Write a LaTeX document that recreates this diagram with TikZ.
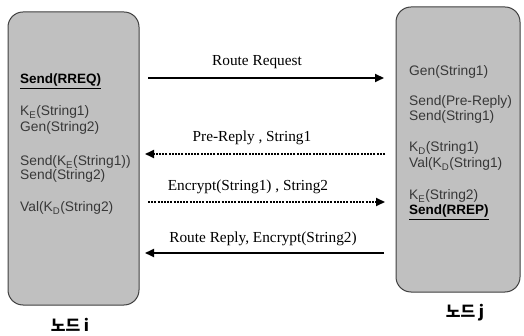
\documentclass[tikz,border=0pt]{standalone}
\usepackage{fontspec}
\setmainfont{Liberation Serif}
\newfontfamily\boxfont{Liberation Sans}
\newfontfamily\krfont{Noto Sans CJK KR}
\usetikzlibrary{arrows.meta}
\definecolor{boxfill}{HTML}{C0C0C0}
\definecolor{boxline}{HTML}{404040}
\definecolor{steptext}{HTML}{383838}
\begin{document}
\begin{tikzpicture}[x=1pt,y=-1pt,
  peer/.style={draw=boxline,line width=1pt,fill=boxfill,rounded corners=15pt,inner sep=0pt},
  stepline/.style={anchor=base west,inner sep=0pt,font=\boxfont\fontsize{13.8}{15}\selectfont,text=steptext},
  keyline/.style={stepline,text=black,font=\boxfont\bfseries\fontsize{13.5}{15}\selectfont},
  msg/.style={line width=2pt,-{Triangle[length=9pt,width=8pt]}},
  dotmsg/.style={msg,dash pattern=on 2pt off 1.2pt},
  msglabel/.style={inner sep=0pt,font=\fontsize{15.3}{17}\selectfont},
  peerlabel/.style={inner sep=0pt,font=\krfont\bfseries\fontsize{16}{18}\selectfont}]
\useasboundingbox (0,0) rectangle (524,336);
% the two peers
\node[peer,minimum width=131pt,minimum height=293pt] (ni) at (73.5,158.5) {};
\node[peer,minimum width=124pt,minimum height=285pt] (nj) at (458,149.5) {};
\node[peerlabel] (li) at (70,325) {노드 i};
\node[peerlabel] (lj) at (465,313) {노드 j};
% steps at node i
\node[keyline] (a1) at (20,84) {\underline{Send(RREQ)}};
\node[stepline] (a2) at (20,116) {K\textsubscript{E}(String1)};
\node[stepline] (a3) at (20,132) {Gen(String2)};
\node[stepline] (a4) at (20,166) {Send(K\textsubscript{E}(String1))};
\node[stepline] (a5) at (20,180) {Send(String2)};
\node[stepline] (a6) at (20,212) {Val(K\textsubscript{D}(String2)};
% steps at node j
\node[stepline] (b1) at (409,76) {Gen(String1)};
\node[stepline] (b2) at (409,106) {Send(Pre-Reply)};
\node[stepline] (b3) at (409,121) {Send(String1)};
\node[stepline] (b4) at (409,152) {K\textsubscript{D}(String1)};
\node[stepline] (b5) at (409,168) {Val(K\textsubscript{D}(String1)};
\node[stepline] (b6) at (409,200) {K\textsubscript{E}(String2)};
\node[keyline] (b7) at (409,215) {\underline{Send(RREP)}};
% message end points
\coordinate (r1s) at (148,78);  \coordinate (r1e) at (384,78);
\coordinate (r2s) at (385,154); \coordinate (r2e) at (145,154);
\coordinate (r3s) at (148,202); \coordinate (r3e) at (385,202);
\coordinate (r4s) at (384,253); \coordinate (r4e) at (145,253);
% messages
\draw[msg] (r1s) -- (r1e);
\draw[dotmsg] (r2s) -- (r2e);
\draw[dotmsg] (r3s) -- (r3e);
\draw[msg] (r4s) -- (r4e);
\node[msglabel] (m1) at (257,62) {Route Request};
\node[msglabel] (m2) at (252,138) {Pre-Reply , String1};
\node[msglabel] (m3) at (248,187) {Encrypt(String1) , String2};
\node[msglabel] (m4) at (263,239) {Route Reply, Encrypt(String2)};
\end{tikzpicture}
\end{document}
